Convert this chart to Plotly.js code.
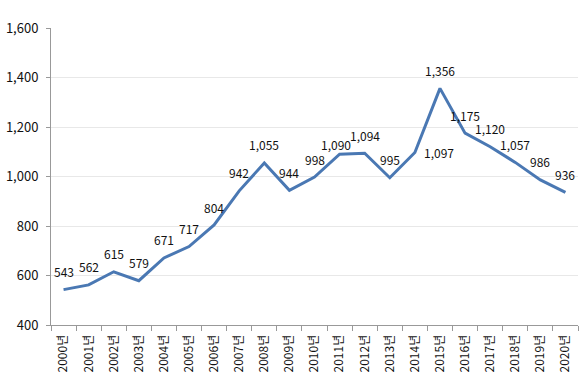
<!DOCTYPE html>
<html><head><meta charset="utf-8">
<script src="https://cdn.plot.ly/plotly-3.0.1.min.js"></script>
<style>body{margin:0;background:#fff}#c{width:580px;height:390px}</style>
</head><body><div id="c"></div>
<script>
const years = ["2000년","2001년","2002년","2003년","2004년","2005년","2006년","2007년","2008년","2009년","2010년","2011년","2012년","2013년","2014년","2015년","2016년","2017년","2018년","2019년","2020년"];
const values = [543,562,615,579,671,717,804,942,1055,944,998,1090,1094,995,1097,1356,1175,1120,1057,986,936];
const yTicks = [400,600,800,1000,1200,1400,1600];

const fmt = v => v.toLocaleString('en-US');
const FONT = '"Noto Sans CJK KR", "Noto Sans", sans-serif';
// label placement tweaks (styling only): default is centred 18px above the point
const labelShift = {11:{x:-4, y:10}, 14:{x:24, y:0}};

const trace = {
  x: years, y: values, type:'scatter', mode:'lines',
  line:{color:'#4a78b3', width:3},
  hoverinfo:'none'
};
const annotations = values.map((v,i)=>{
  const s = labelShift[i] || {x:0, y:18};
  return {x:years[i], y:v, text:fmt(v), showarrow:false, xshift:s.x, yshift:s.y,
    font:{family:FONT, size:12, color:'#111'}};
});
const layout = {
  width:580, height:390,
  margin:{l:51, r:2, t:28, b:65},
  paper_bgcolor:'#fff', plot_bgcolor:'#fff',
  showlegend:false,
  font:{family:FONT, color:'#111'},
  xaxis:{type:'category', range:[-0.5,20.5], tickangle:-90, tickson:'boundaries',
    ticks:'outside', ticklen:5, tickcolor:'#999', showline:true, linecolor:'#999', linewidth:1,
    ticklabelstandoff:4,
    showgrid:false, tickfont:{size:12, color:'#111'}},
  yaxis:{range:[400,1600], tickvals:yTicks, ticktext:yTicks.map(fmt),
    ticks:'outside', ticklen:4, tickcolor:'#999', showline:true, linecolor:'#999', linewidth:1,
    ticklabelstandoff:5,
    gridcolor:'#e8e8e8', zeroline:false, tickfont:{size:13, color:'#111'}},
  annotations: annotations
};
Plotly.newPlot('c',[trace],layout,{displayModeBar:false,staticPlot:true});
</script></body></html>
